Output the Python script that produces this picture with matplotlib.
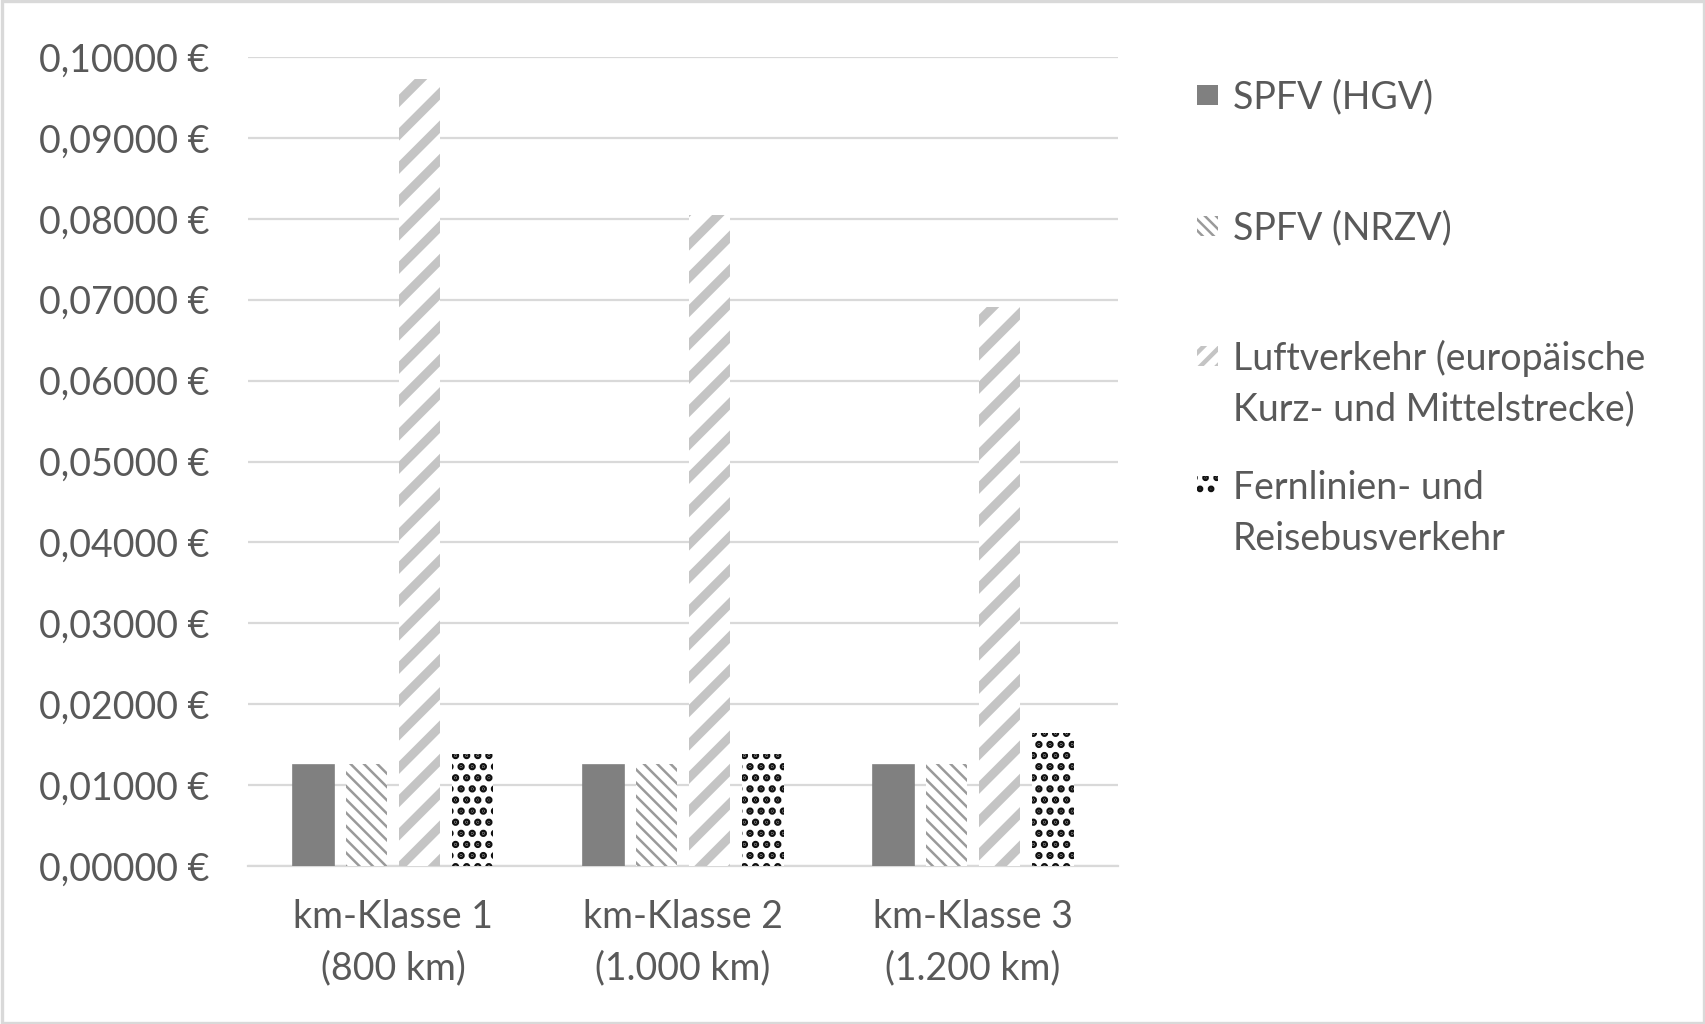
import matplotlib
matplotlib.use("Agg")
import matplotlib.pyplot as plt
from matplotlib.patches import Rectangle

plt.rcParams['font.family'] = ['Lato', 'DejaVu Sans']

kategorien = ["km-Klasse 1\n(800 km)", "km-Klasse 2\n(1.000 km)", "km-Klasse 3\n(1.200 km)"]
serien = ["SPFV (HGV)", "SPFV (NRZV)", "Luftverkehr (europäische\nKurz- und Mittelstrecke)",
          "Fernlinien- und\nReisebusverkehr"]
hgv = [0.0125, 0.0125, 0.0125]
nrzv = [0.0126, 0.0126, 0.0126]
luft = [0.0973, 0.0805, 0.0691]
bus = [0.0138, 0.0138, 0.0165]
yticks = [0.0, 0.01, 0.02, 0.03, 0.04, 0.05, 0.06, 0.07, 0.08, 0.09, 0.10]

textfarbe = '#595959'
gitter = '#d9d9d9'

# (fill, hatch, hatch colour, hatch linewidth)
stile = [
    ('#808080', None, '#808080', 1.0),
    ('white', '\\\\\\\\\\', '#9a9a9a', 0.9),
    ('white', '//', '#c4c4c4', 3.2),
    ('white', '...', '#111111', 1.8),
]

fig = plt.figure(figsize=(8.53, 5.12), dpi=200)
ax = fig.add_axes([0.1454, 0.1543, 0.51, 0.790])

breite = 0.142
schritt = 0.1835
x = list(range(len(kategorien)))
for i, werte in enumerate([hgv, nrzv, luft, bus]):
    fc, hatch, hc, hlw = stile[i]
    pos = [xi + (i - 1.5) * schritt for xi in x]
    bars = ax.bar(pos, werte, width=breite, color=fc, edgecolor=hc,
                  linewidth=0.6 if i == 0 else 0, hatch=hatch, zorder=3)
    for b in bars:
        try:
            b.set_hatch_linewidth(hlw)
        except AttributeError:
            pass

ax.set_xlim(-0.5, 2.5)
ax.set_ylim(0, 0.1)
ax.set_yticks(yticks)
ax.set_yticklabels([f"{v:.5f}".replace('.', ',') + " €" for v in yticks])
ax.set_xticks(x)
ax.set_xticklabels(kategorien, linespacing=1.5)
ax.tick_params(axis='y', length=0, pad=14, labelsize=13.5, labelcolor=textfarbe)
ax.tick_params(axis='x', length=0, pad=12, labelsize=13.5, labelcolor=textfarbe)
ax.grid(axis='y', color=gitter, linewidth=0.8, zorder=0)
ax.set_axisbelow(True)
for s in ['left', 'right', 'top']:
    ax.spines[s].set_visible(False)
ax.spines['bottom'].set_color(gitter)
ax.spines['bottom'].set_linewidth(0.8)

# legend, drawn by hand like Excel
W, H = 1706, 1024
legende_y = [95, 226, 356, 486]
legende_hatch = [None, '\\\\\\\\\\\\', '////', '...']
for i, (label, y) in enumerate(zip(serien, legende_y)):
    fc, hatch, hc, hlw = stile[i]
    r = Rectangle((1197 / W, 1 - (y + 10) / H), 21 / W, 20 / H, transform=fig.transFigure,
                  facecolor=fc, edgecolor=hc, linewidth=0, hatch=legende_hatch[i])
    try:
        r.set_hatch_linewidth(min(hlw, 1.6))
    except AttributeError:
        pass
    fig.add_artist(r)
    fig.text(1233 / W, 1 - (y - 16) / H, label, ha='left', va='top', fontsize=13.5,
             color=textfarbe, linespacing=1.5)

fig.add_artist(Rectangle((0.001, 0.001), 0.998, 0.998, transform=fig.transFigure,
                         fill=False, edgecolor=gitter, linewidth=1.2))

fig.savefig("out.png", dpi=200)
